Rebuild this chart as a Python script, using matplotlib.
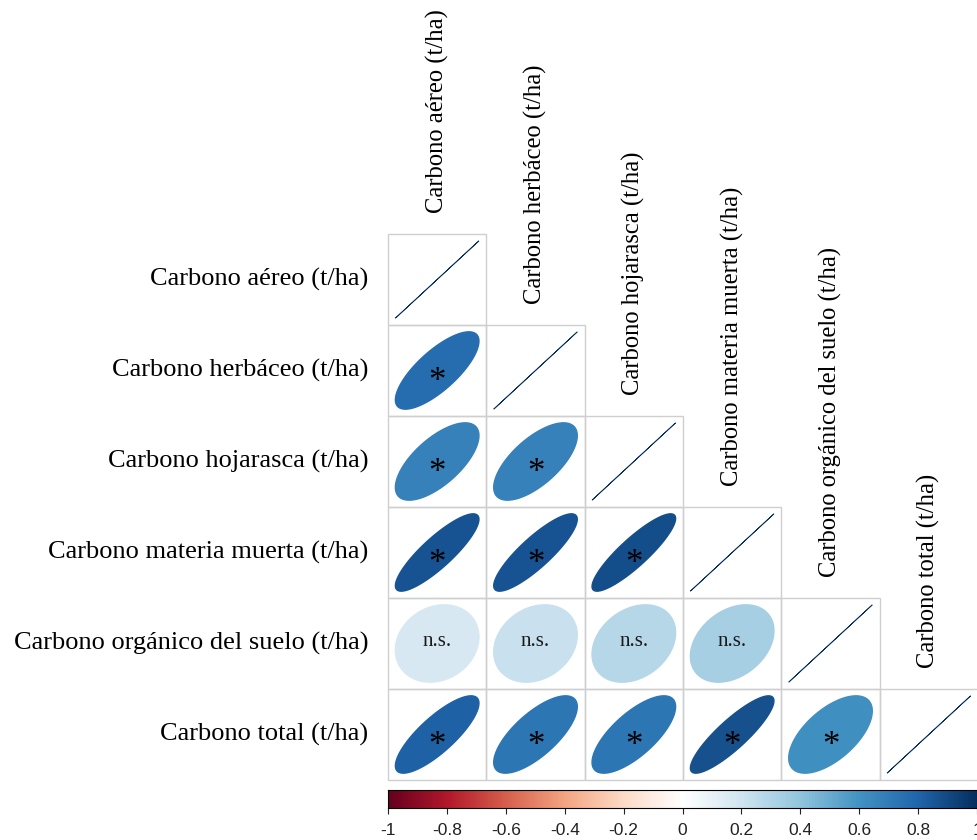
import numpy as np
import matplotlib
matplotlib.use("Agg")
import matplotlib.pyplot as plt
from matplotlib.colors import LinearSegmentedColormap
from matplotlib.patches import Polygon, Rectangle

# variables de la matriz de correlación
nombres = [
    "Carbono aéreo (t/ha)",
    "Carbono herbáceo (t/ha)",
    "Carbono hojarasca (t/ha)",
    "Carbono materia muerta (t/ha)",
    "Carbono orgánico del suelo (t/ha)",
    "Carbono total (t/ha)",
]

# triángulo inferior (incluye la diagonal)
corr_filas = [
    [1.00],
    [0.76, 1.00],
    [0.67, 0.67, 1.00],
    [0.86, 0.86, 0.88, 1.00],
    [0.17, 0.22, 0.28, 0.33, 1.00],
    [0.81, 0.72, 0.72, 0.87, 0.61, 1.00],
]

# True = significativo (*), False = n.s.
signif_filas = [
    [None],
    [True, None],
    [True, True, None],
    [True, True, True, None],
    [False, False, False, False, None],
    [True, True, True, True, True, None],
]

ticks_barra = [-1, -0.8, -0.6, -0.4, -0.2, 0, 0.2, 0.4, 0.6, 0.8, 1]

# paleta RdBu de corrplot
col2 = ["#67001F", "#B2182B", "#D6604D", "#F4A582", "#FDDBC7", "#FFFFFF",
        "#D1E5F0", "#92C5DE", "#4393C3", "#2166AC", "#053061"]
cmap = LinearSegmentedColormap.from_list("rdbu", col2, N=200)


def elipse(r, n=99):
    t = np.linspace(0, 2 * np.pi, n)
    a = np.arccos(np.clip(r, -1, 1))
    x = 0.425 * np.cos(t + a / 2)
    y = 0.425 * np.cos(t - a / 2)
    return x, y


W, H = 977, 840
fig = plt.figure(figsize=(W / 100, H / 100), dpi=100)

serif = ["Liberation Serif", "DejaVu Serif"]
sans = ["Liberation Sans", "DejaVu Sans"]

n = len(nombres)
ax = fig.add_axes([388 / W, (H - 780) / H, 590 / W, 546 / H])
ax.set_xlim(0, n)
ax.set_ylim(n, 0)
ax.axis("off")

for i in range(n):
    for j in range(i + 1):
        ax.add_patch(Rectangle((j, i), 1, 1, fill=False, edgecolor="#CFCFCF",
                               lw=1.0, clip_on=False, zorder=1))
        r = corr_filas[i][j]
        c = cmap((r + 1) / 2)
        ex, ey = elipse(r)
        pts = np.column_stack([j + 0.5 + ex, i + 0.5 - ey])
        ax.add_patch(Polygon(pts, closed=True, facecolor=c, edgecolor=c,
                             lw=0.6 if i == j else 1.0, zorder=2))
        s = signif_filas[i][j]
        if s is True:
            ax.text(j + 0.5, i + 0.63, "*", ha="center", va="center",
                    fontsize=25, family=serif, color="black", zorder=3)
        elif s is False:
            ax.text(j + 0.5, i + 0.48, "n.s.", ha="center", va="center",
                    fontsize=15, family=serif, color="#1A1A1A", zorder=3)

# etiquetas de filas y columnas
for k, nom in enumerate(nombres):
    ax.text(-0.2, k + 0.5, nom, ha="right", va="center", fontsize=19,
            family=serif, clip_on=False)
    ax.text(k + 0.5, k - 0.23, nom, ha="center", va="bottom", rotation=90,
            fontsize=17.7, family=serif, clip_on=False)

# barra de colores
cax = fig.add_axes([388 / W, (H - 808) / H, 589 / W, 18 / H])
grad = np.linspace(-1, 1, 400).reshape(1, -1)
cax.imshow(grad, cmap=cmap, vmin=-1, vmax=1, aspect="auto",
           extent=(-1, 1, 0, 1))
cax.set_xlim(-1, 1)
cax.set_yticks([])
cax.set_xticks(ticks_barra)
cax.set_xticklabels([f"{t:g}" for t in ticks_barra], family=sans, fontsize=12.5)
cax.tick_params(axis="x", length=4, width=0.8, pad=7, colors="#222222")
for sp in cax.spines.values():
    sp.set_linewidth(0.8)

fig.savefig("out.png", dpi=100)
